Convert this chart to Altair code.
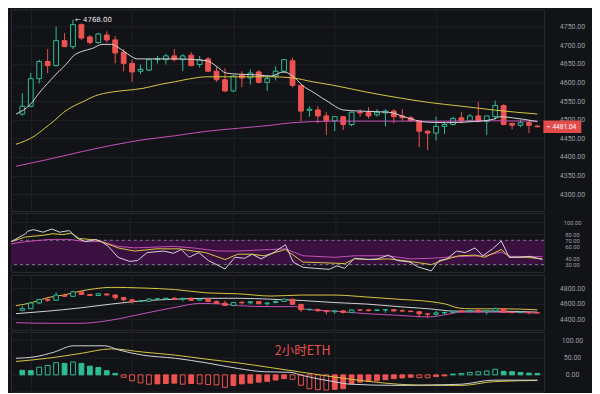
import altair as alt
import pandas as pd

# ---------------- candles (ETH, 2h) ----------------
opens = [4515, 4536, 4610, 4656, 4645, 4712, 4696, 4755, 4722, 4707,
         4727, 4714, 4681, 4651, 4630, 4633, 4661, 4661, 4671, 4661,
         4673, 4648, 4663, 4630, 4607, 4577, 4620, 4612, 4628, 4600,
         4617, 4630, 4658, 4592, 4525, 4526, 4510, 4497, 4508, 4487,
         4520, 4520, 4513, 4518, 4523, 4510, 4505, 4497, 4469, 4464,
         4482, 4487, 4505, 4497, 4510, 4495, 4508, 4538, 4490, 4485,
         4492, 4483]
highs = [4571, 4625, 4661, 4689, 4750, 4732, 4768, 4758, 4727, 4732,
         4737, 4724, 4689, 4661, 4648, 4663, 4671, 4676, 4689, 4676,
         4681, 4671, 4668, 4643, 4638, 4620, 4630, 4635, 4633, 4617,
         4643, 4663, 4666, 4594, 4536, 4536, 4520, 4508, 4510, 4522,
         4528, 4533, 4528, 4528, 4528, 4528, 4510, 4497, 4472, 4508,
         4495, 4508, 4520, 4515, 4548, 4510, 4551, 4541, 4492, 4500,
         4497, 4485]
lows = [4510, 4533, 4597, 4625, 4643, 4695, 4689, 4714, 4702, 4704,
        4707, 4651, 4630, 4602, 4622, 4630, 4650, 4648, 4656, 4630,
        4643, 4640, 4628, 4602, 4574, 4574, 4587, 4594, 4597, 4577,
        4605, 4625, 4587, 4495, 4508, 4490, 4459, 4469, 4472, 4482,
        4508, 4503, 4508, 4482, 4490, 4497, 4495, 4426, 4418, 4444,
        4462, 4485, 4490, 4495, 4493, 4459, 4500, 4485, 4474, 4480,
        4464, 4479]
closes = [4536, 4610, 4656, 4645, 4712, 4696, 4755, 4719, 4707, 4730,
          4714, 4679, 4651, 4628, 4635, 4661, 4663, 4671, 4661, 4671,
          4645, 4661, 4630, 4607, 4577, 4617, 4612, 4625, 4600, 4610,
          4630, 4661, 4592, 4523, 4528, 4510, 4497, 4508, 4487, 4520,
          4518, 4510, 4520, 4523, 4508, 4505, 4497, 4469, 4464, 4482,
          4487, 4503, 4497, 4510, 4495, 4510, 4538, 4487, 4485, 4492,
          4485, 4481.04]

# ---------------- main-panel moving averages (bar index, price) ----------------
ma_w_x = [-0.75, 0.95, 2.08, 2.98, 4.12, 5.25, 6.04, 7.17, 8.3, 9.43, 10.56, 11.35, 12.48,
          13.61, 15.08, 18.13, 21.87, 23.0, 24.13, 25.6, 27.86, 29.44, 30.91, 32.04, 33.17,
          34.64, 36.22, 38.03, 39.95, 43.35, 45.61, 47.53, 50.13, 53.52, 55.78, 56.57, 58.04, 61.0]
ma_w_y = [4515, 4541, 4574, 4597, 4625, 4650, 4671, 4684, 4691, 4702, 4702, 4694, 4676,
          4663, 4663, 4663, 4658, 4643, 4625, 4622, 4620, 4617, 4628, 4617, 4592,
          4571, 4548, 4526, 4523, 4520, 4505, 4494, 4492, 4495, 4501, 4508, 4505, 4495]
ma_y_x = [-0.75, 1.51, 2.65, 3.78, 4.91, 6.04, 7.17, 8.64, 10.56, 12.48, 14.29, 16.21, 18.13,
          19.94, 21.87, 25.6, 29.44, 32.04, 34.3, 36.9, 40.75, 44.48, 48.2, 52.05, 55.78, 61.0]
ma_y_y = [4434, 4457, 4477, 4497, 4520, 4536, 4548, 4564, 4574, 4579, 4584, 4594, 4602,
          4610, 4615, 4615, 4615, 4612, 4602, 4592, 4574, 4559, 4546, 4536, 4526, 4515]
ma_m_x = [-0.75, 2.98, 6.83, 10.56, 14.29, 18.13, 21.87, 25.6, 29.44, 32.04, 36.9, 44.48,
          50.13, 55.78, 61.0]
ma_m_y = [4375, 4393, 4413, 4431, 4446, 4457, 4469, 4477, 4485, 4492, 4496, 4496,
          4496, 4497, 4496]

# ---------------- RSI ----------------
rsi_w_x = [-0.75, 0.95, 1.18, 1.85, 2.98, 4.0, 4.91, 6.04, 6.94, 7.96, 9.09, 9.77, 10.56,
           11.69, 13.05, 13.95, 15.08, 17.0, 18.13, 19.04, 19.94, 21.07, 22.2, 24.13, 25.26,
           26.39, 27.29, 28.31, 29.78, 31.14, 32.04, 33.17, 34.64, 36.22, 37.13, 38.03, 39.16,
           40.75, 41.88, 43.12, 44.14, 45.61, 46.51, 48.09, 49.0, 49.9, 51.03, 52.05, 53.18,
           54.08, 55.22, 56.23, 57.14, 58.38, 59.51, 61.0]
rsi_w_y = [67.8, 80.9, 84.9, 87.6, 83.4, 88.6, 83.4, 86, 73.1, 67.8, 71.5, 67.8, 60,
           42, 35.2, 36.7, 49.8, 52.3, 48.7, 54.9, 42, 49.8, 36.7, 22.7, 42,
           40.4, 47.1, 39.4, 49.8, 62.7, 34.2, 25.5, 23.8, 22.2, 28, 23.8, 40.4,
           38.3, 39.4, 45.6, 36.7, 34.2, 26.4, 19.6, 36.7, 39.4, 52.3, 49.8, 57.5,
           44.5, 56, 68.9, 42, 42, 43.6, 38.3]
rsi_y_x = [-0.75, 0.95, 2.98, 4.12, 5.25, 6.26, 7.17, 9.09, 10.22, 11.69, 13.61, 16.21,
           18.81, 20.39, 21.87, 24.13, 25.6, 27.18, 28.65, 31.14, 33.17, 35.43, 38.03, 39.16,
           41.42, 43.12, 45.61, 48.09, 49.34, 51.26, 53.18, 54.31, 56.23, 57.25, 59.18, 61.0]
rsi_y_y = [67.8, 75.6, 78.2, 80.9, 79.3, 81.8, 73.1, 70.5, 65.3, 57.5, 52.3, 56,
           56, 52.3, 49.8, 38.3, 47.1, 47.1, 44.5, 54.9, 34.2, 33.1, 31.6, 39.4,
           38.3, 39.4, 35.2, 30, 36.7, 44.5, 45.6, 42, 54.9, 42, 42, 39.4]
rsi_m_x = [-0.75, 0.95, 3.78, 6.04, 7.96, 9.77, 11.69, 13.61, 18.13, 20.39, 23.33, 25.6,
           29.44, 31.14, 33.17, 36.9, 39.16, 43.0, 45.61, 48.09, 49.79, 52.05, 54.31, 56.23,
           57.25, 61.0]
rsi_m_y = [64.2, 67.8, 71.5, 71.5, 67.8, 67.8, 60, 57.5, 60, 57.5, 52.3, 52.3,
           54.9, 56, 44.5, 42, 44.5, 44.5, 39.4, 40.4, 42, 43.6, 44.5, 50.7,
           43.6, 42.9]
rsi_band = [30, 70]

# ---------------- third panel (price bands) ----------------
bb_up_x = [-0.75, 1.18, 2.98, 4.91, 6.83, 8.64, 10.56, 14.29, 18.13, 21.87, 25.6, 29.44,
           33.17, 36.9, 40.75, 44.48, 48.2, 50.13, 51.6, 53.18, 57.25, 61.0]
bb_up_y = [4575, 4616, 4679, 4713, 4763, 4796, 4813, 4804, 4784, 4741, 4729, 4700,
           4713, 4713, 4688, 4659, 4629, 4596, 4546, 4534, 4534, 4521]
bb_mid_x = [-0.75, 2.98, 6.83, 10.56, 14.29, 18.13, 21.87, 25.6, 29.44, 33.17, 36.9,
            40.75, 44.48, 48.2, 51.26, 55.78, 61.0]
bb_mid_y = [4471, 4504, 4546, 4596, 4638, 4659, 4671, 4671, 4659, 4642, 4616,
            4596, 4563, 4534, 4504, 4504, 4491]
bb_lo_x = [-0.75, 2.98, 6.83, 10.56, 14.29, 18.13, 21.07, 23.79, 25.6, 29.44, 32.38,
           33.17, 36.9, 40.75, 44.48, 48.2, 50.13, 52.05, 55.78, 61.0]
bb_lo_y = [4354, 4346, 4346, 4388, 4471, 4554, 4604, 4596, 4575, 4563, 4563,
           4534, 4504, 4471, 4450, 4429, 4459, 4491, 4491, 4479]

# ---------------- MACD ----------------
macd_hist = [13, 12, 22, 27, 35, 33, 37, 33, 25, 21, 12, 4,
             -7, -17, -23, -27, -26, -25, -24, -27, -25, -26, -28, -29, -36, -31,
             -26, -24, -21, -19, -15, -11, -13, -30, -40, -43, -44, -42, -40, -25,
             -21, -19, -17, -14, -11, -9, -7, -8, -8.5, -5, -3,
             2, 4, 7, 9, 11, 16, 10, 9, 7, 5, 4]
dif_x = [-0.75, 1.51, 3.78, 6.04, 9.77, 11.35, 14.29, 18.13, 21.87, 25.6, 28.65, 31.7,
         33.17, 36.9, 38.82, 44.48, 49.0, 52.05, 55.78, 61.0]
dif_y = [47.8, 52.2, 65.7, 83.8, 83.8, 72.2, 56.8, 47.8, 34.3, 18.1, 8.9, 7.3,
         -1.9, -19.7, -27, -30.5, -28.9, -27, -15.4, -15.4]
dea_x = [-0.75, 2.98, 6.83, 10.56, 14.29, 18.13, 21.87, 25.6, 29.44, 33.17, 36.9,
         40.75, 44.48, 49.0, 52.05, 55.78, 61.0]
dea_y = [38.6, 47.8, 61.4, 74.9, 65.7, 56.8, 45.1, 34.3, 20.8, 7.3, -6.2,
         -18.1, -27, -30.5, -30.5, -19.7, -16.2]

# ---------------- axes ----------------
time_ticks = [1, 13, 25, 37, 49]
price_ticks = [4300, 4350, 4400, 4450, 4500, 4550, 4600, 4650, 4700, 4750]
rsi_ticks = [30, 40, 60, 70, 80, 100]
band_ticks = [4400, 4600, 4800]
macd_ticks = [0, 50, 100]
watermark = "2小时ETH"

# ---------------- style ----------------
BG = "#121317"
GRID = "#1f2125"
BORDER = "#2a2c31"
UP = "#2ebd95"
DOWN = "#ee5350"
WHITE = "#d2d3d6"
YELLOW = "#d6c641"
MAGENTA = "#c550b6"
LABEL = "#9c9fa5"

W = 534
H_MAIN, H_RSI, H_BAND, H_MACD = 202, 59, 55, 60
X_DOM = [-0.75, 61.2]

xs = alt.Scale(domain=X_DOM, nice=False, zero=False)
xa = alt.Axis(values=time_ticks, grid=True, labels=False, ticks=False, domain=False,
              title=None, gridColor=GRID)


def X(f):
    return alt.X(f"{f}:Q", scale=xs, axis=xa)


def Y(f, dom, vals, fs=7):
    return alt.Y(
        f"{f}:Q",
        scale=alt.Scale(domain=dom, nice=False, zero=False),
        axis=alt.Axis(orient="right", values=vals, format=".2f", grid=True, gridColor=GRID,
                      ticks=False, tickSize=0, domain=False, title=None, labelAlign="center",
                      labelBaseline="middle", labelPadding=28, labelOverlap=False,
                      labelFlush=False, labelColor=LABEL, labelFontSize=fs, labelFont="Roboto"),
    )


dir_scale = alt.Scale(domain=["up", "down"], range=[UP, DOWN])

n = len(closes)
cdf = pd.DataFrame({"i": list(range(n)), "open": opens, "high": highs, "low": lows, "close": closes})
cdf["dir"] = ["up" if c >= o else "down" for o, c in zip(opens, closes)]
cdf["lo"] = cdf[["open", "close"]].min(axis=1)
cdf["hi"] = cdf[["open", "close"]].max(axis=1)


def candles(dom, vals, size):
    base = alt.Chart(cdf)
    wick = base.mark_rule(strokeWidth=1).encode(
        x=X("i"), y=Y("low", dom, vals), y2="high:Q",
        color=alt.Color("dir:N", scale=dir_scale, legend=None))
    body = base.mark_bar(size=size, strokeWidth=1).encode(
        x=X("i"), y=Y("lo", dom, vals), y2="hi:Q",
        stroke=alt.Stroke("dir:N", scale=dir_scale, legend=None),
        fill=alt.condition("datum.dir == 'up'", alt.value(BG), alt.value(DOWN)))
    return [wick, body]


def line(xv, yv, color, dom, vals, interp="monotone", width=1.0, fs=7):
    df = pd.DataFrame({"i": xv, "v": yv})
    return alt.Chart(df).mark_line(color=color, strokeWidth=width, interpolate=interp).encode(
        x=X("i"), y=Y("v", dom, vals, fs))


# ---------------- main panel ----------------
P_DOM = [4255, 4796]
imax = highs.index(max(highs))
hi_df = pd.DataFrame({"i": [imax], "v": [max(highs)], "t": [f"← {max(highs):.2f}"]})
hi_text = alt.Chart(hi_df).mark_text(align="left", baseline="middle", dx=2, fontSize=7,
                                     font="DejaVu Sans", color="#e4e4e4").encode(
    x=X("i"), y=Y("v", P_DOM, price_ticks), text="t:N")

last_df = pd.DataFrame({"i": [n - 1], "v": [closes[-1]], "t": [f"{closes[-1]:.2f}"]})
last_box = alt.Chart(last_df).mark_point(
    shape="M-1,-0.33L1,-0.33L1,0.33L-1,0.33Z", size=1444, filled=True, opacity=1,
    color="#e24c4b", xOffset=25).encode(x=X("i"), y=Y("v", P_DOM, price_ticks))
last_dash = alt.Chart(last_df).mark_point(
    shape="M-1,0L1,0", size=9, filled=False, opacity=1, stroke="#ffffff", strokeWidth=1,
    xOffset=11).encode(x=X("i"), y=Y("v", P_DOM, price_ticks))
last_text = alt.Chart(last_df).mark_text(
    align="center", baseline="middle", fontSize=6.6, font="Roboto", color="#ffffff",
    dx=27, dy=0.5).encode(x=X("i"), y=Y("v", P_DOM, price_ticks), text="t:N")

main = alt.layer(
    *candles(P_DOM, price_ticks, 4.8),
    line(ma_m_x, ma_m_y, MAGENTA, P_DOM, price_ticks),
    line(ma_y_x, ma_y_y, YELLOW, P_DOM, price_ticks),
    line(ma_w_x, ma_w_y, WHITE, P_DOM, price_ticks),
    hi_text, last_box, last_dash, last_text,
).properties(width=W, height=H_MAIN)

# ---------------- RSI panel ----------------
R_DOM = [18, 115]
RFS = 5.8
band_df = pd.DataFrame({"lo": [rsi_band[0]], "hi": [rsi_band[1]]})
band = alt.Chart(band_df).mark_rect(color="#3a1040", opacity=1).encode(
    y=Y("lo", R_DOM, rsi_ticks, RFS), y2="hi:Q")
dash_df = pd.DataFrame({"v": rsi_band})
dashes = alt.Chart(dash_df).mark_rule(color="#86728c", strokeDash=[3, 3], strokeWidth=1).encode(
    y=Y("v", R_DOM, rsi_ticks, RFS))
rsi = alt.layer(
    band, dashes,
    line(rsi_m_x, rsi_m_y, MAGENTA, R_DOM, rsi_ticks, "linear", fs=RFS),
    line(rsi_y_x, rsi_y_y, YELLOW, R_DOM, rsi_ticks, "linear", fs=RFS),
    line(rsi_w_x, rsi_w_y, WHITE, R_DOM, rsi_ticks, "linear", fs=RFS),
).properties(width=W, height=H_RSI)

# ---------------- band panel ----------------
B_DOM = [4262, 4975]
bandp = alt.layer(
    line(bb_up_x, bb_up_y, YELLOW, B_DOM, band_ticks),
    line(bb_mid_x, bb_mid_y, WHITE, B_DOM, band_ticks),
    line(bb_lo_x, bb_lo_y, MAGENTA, B_DOM, band_ticks),
    *candles(B_DOM, band_ticks, 4.5),
).properties(width=W, height=H_BAND)

# ---------------- MACD panel ----------------
M_DOM = [-48.6, 124.3]
hdf = pd.DataFrame({"i": list(range(n)), "v": macd_hist})
hdf["dir"] = ["up" if v >= 0 else "down" for v in macd_hist]
prev = [None] + macd_hist[:-1]
hdf["hollow"] = [p is not None and abs(v) >= abs(p) for v, p in zip(macd_hist, prev)]
hist = alt.Chart(hdf).mark_bar(size=4.8, strokeWidth=1).encode(
    x=X("i"), y=Y("v", M_DOM, macd_ticks), y2=alt.datum(0),
    stroke=alt.Stroke("dir:N", scale=dir_scale, legend=None),
    fill=alt.condition("datum.hollow", alt.value(BG),
                       alt.Fill("dir:N", scale=dir_scale, legend=None)))
wm_df = pd.DataFrame({"i": [33.2], "v": [67.6], "t": [watermark]})
wm = alt.Chart(wm_df).mark_text(fontSize=12.5, font="Noto Sans CJK SC", color="#e8514e",
                                align="center", baseline="middle").encode(
    x=X("i"), y=Y("v", M_DOM, macd_ticks), text="t:N")
macd = alt.layer(
    hist,
    line(dea_x, dea_y, YELLOW, M_DOM, macd_ticks),
    line(dif_x, dif_y, WHITE, M_DOM, macd_ticks),
    wm,
).properties(width=W, height=H_MACD)

chart = alt.vconcat(main, rsi, bandp, macd, spacing=0).properties(
    background=BG, padding={"left": 0, "top": 0, "right": 6, "bottom": 0}
).configure_view(stroke=BORDER, strokeWidth=1)

chart.save("out.html", embed_options={"renderer": "svg", "actions": False})
